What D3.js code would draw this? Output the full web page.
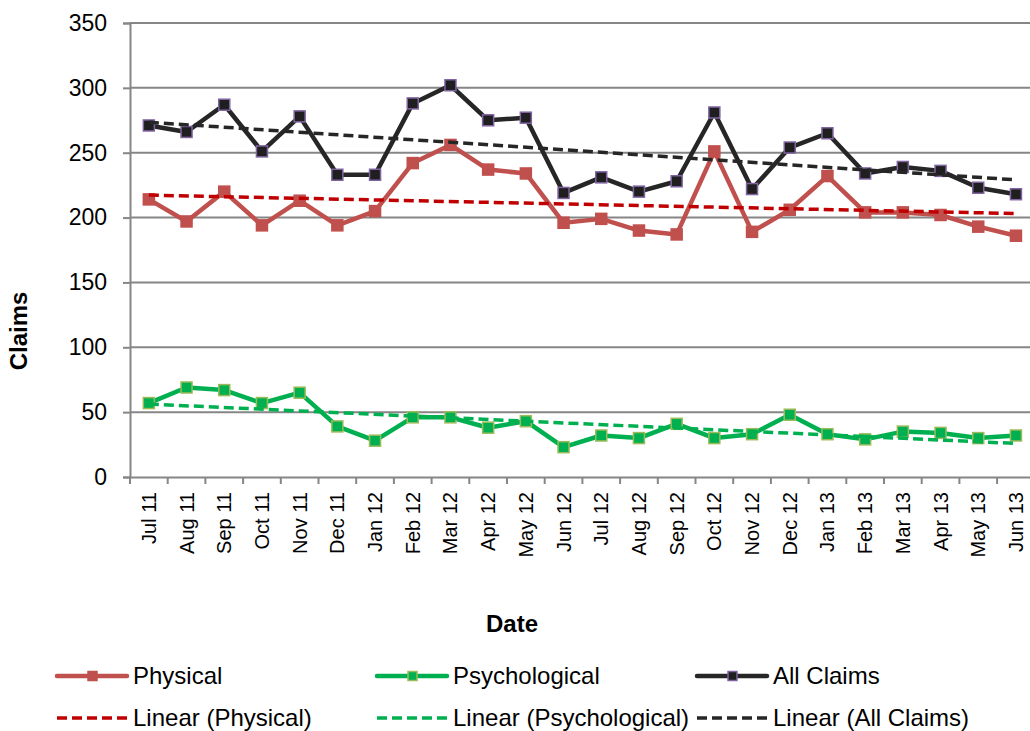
<!DOCTYPE html>
<html lang="en">

<head>
  <meta charset="UTF-8" />
  <script src="https://d3js.org/d3.v7.min.js"></script>
  <title>Claims by Month</title>
  <style>
    body { margin: 0; background: #fff; }
    text { font-family: "Liberation Sans", Arial, sans-serif; fill: #000; }
  </style>
</head>

<body>
  <svg width="1030" height="731"></svg>

  <script>
    // Data
    const months = ["Jul 11", "Aug 11", "Sep 11", "Oct 11", "Nov 11", "Dec 11", "Jan 12", "Feb 12",
      "Mar 12", "Apr 12", "May 12", "Jun 12", "Jul 12", "Aug 12", "Sep 12", "Oct 12", "Nov 12",
      "Dec 12", "Jan 13", "Feb 13", "Mar 13", "Apr 13", "May 13", "Jun 13"];
    const physical = [214, 197, 220, 194, 213, 194, 205, 242, 256, 237, 234, 196,
      199, 190, 187, 251, 189, 206, 232, 204, 204, 202, 193, 186];
    const psychological = [57, 69, 67, 57, 65, 39, 28, 46, 46, 38, 43, 23,
      32, 30, 41, 30, 33, 48, 33, 29, 35, 34, 30, 32];
    const allClaims = [271, 266, 287, 251, 278, 233, 233, 288, 302, 275, 277, 219,
      231, 220, 228, 281, 222, 254, 265, 234, 239, 236, 223, 218];
    const yTicks = [0, 50, 100, 150, 200, 250, 300, 350];

    const series = [
      { name: "Physical", values: physical, color: "#c0504d", marker: "#c0504d", edge: "#c0504d", trend: "#c00000" },
      { name: "Psychological", values: psychological, color: "#00b050", marker: "#00b050", edge: "#9bbb59", trend: "#00b050" },
      { name: "All Claims", values: allClaims, color: "#262626", marker: "#1f1f1f", edge: "#8064a2", trend: "#262626" }
    ];

    const svg = d3.select("svg");
    const margin = { top: 23, left: 130, bottom: 254 };
    const band = 37.7;
    const width = band * months.length;
    const height = 731 - margin.top - margin.bottom;

    const x = d3.scaleBand().domain(months).range([0, width]);
    const y = d3.scaleLinear().domain([0, 350]).range([height, 0]);

    const chart = svg.append("g")
      .attr("transform", `translate(${margin.left},${margin.top})`);

    // gridlines
    chart.append("g")
      .selectAll("line")
      .data(yTicks.filter(d => d > 0))
      .join("line")
      .attr("x1", 0).attr("x2", width)
      .attr("y1", d => y(d)).attr("y2", d => y(d))
      .attr("stroke", "#868686").attr("stroke-width", 2);

    // y axis
    const yAxis = chart.append("g")
      .call(d3.axisLeft(y).tickValues(yTicks).tickSize(7).tickPadding(16));
    yAxis.select(".domain").attr("stroke", "#868686").attr("stroke-width", 2);
    yAxis.selectAll(".tick line").attr("stroke", "#868686").attr("stroke-width", 2);
    yAxis.selectAll("text").attr("font-size", 23).attr("font-family", "Liberation Sans, Arial, sans-serif").attr("fill", "#000");

    // x axis
    const xAxis = chart.append("g")
      .attr("transform", `translate(0,${height})`)
      .call(d3.axisBottom(x).tickSize(0).tickPadding(0));
    xAxis.select(".domain").attr("stroke", "#868686").attr("stroke-width", 2);
    xAxis.selectAll(".tick text")
      .attr("font-size", 20)
      .attr("font-family", "Liberation Sans, Arial, sans-serif")
      .attr("fill", "#000")
      .attr("text-anchor", "end")
      .attr("dy", "0.35em")
      .attr("transform", "translate(0,15) rotate(-90)")
      .attr("x", 0).attr("y", 0);
    // ticks at the band edges
    chart.append("g")
      .selectAll("line")
      .data(d3.range(months.length + 1))
      .join("line")
      .attr("x1", i => i * x.step()).attr("x2", i => i * x.step())
      .attr("y1", height).attr("y2", height + 7)
      .attr("stroke", "#868686").attr("stroke-width", 2);

    const cx = (d, i) => x(months[i]) + x.bandwidth() / 2;

    // linear trend through each series
    function trend(values) {
      const n = values.length;
      const xs = d3.range(n);
      const mx = d3.mean(xs), my = d3.mean(values);
      const b = d3.sum(xs, i => (i - mx) * (values[i] - my)) / d3.sum(xs, i => (i - mx) ** 2);
      const a = my - b * mx;
      return [a, a + b * (n - 1)];
    }

    const line = d3.line().x(cx).y(d => y(d));

    series.forEach(s => {
      chart.append("path")
        .datum(s.values)
        .attr("fill", "none")
        .attr("stroke", s.color)
        .attr("stroke-width", 4.5)
        .attr("stroke-linejoin", "round")
        .attr("d", line);

      chart.append("g")
        .selectAll("rect")
        .data(s.values)
        .join("rect")
        .attr("x", (d, i) => cx(d, i) - 5.5)
        .attr("y", d => y(d) - 5.5)
        .attr("width", 11).attr("height", 11)
        .attr("fill", s.marker)
        .attr("stroke", s.edge)
        .attr("stroke-width", 1.5);
    });

    series.forEach(s => {
      const [t0, t1] = trend(s.values);
      chart.append("line")
        .attr("x1", cx(0, 0)).attr("x2", cx(0, months.length - 1))
        .attr("y1", y(t0)).attr("y2", y(t1))
        .attr("stroke", s.trend)
        .attr("stroke-width", 3.5)
        .attr("stroke-dasharray", "10,5");
    });

    // axis titles
    svg.append("text")
      .attr("x", 512).attr("y", 632)
      .attr("text-anchor", "middle")
      .attr("font-size", 24).attr("font-weight", "bold")
      .text("Date");
    svg.append("text")
      .attr("transform", "translate(27,331) rotate(-90)")
      .attr("text-anchor", "middle")
      .attr("font-size", 24).attr("font-weight", "bold")
      .text("Claims");

    // legend
    const legendX = [57, 377, 697];
    const legend = svg.append("g");
    series.forEach((s, i) => {
      const g = legend.append("g").attr("transform", `translate(${legendX[i]},676)`);
      g.append("line").attr("x1", 0).attr("x2", 70)
        .attr("stroke", s.color).attr("stroke-width", 4.5).attr("stroke-linecap", "round");
      g.append("rect").attr("x", 31).attr("y", -4.5).attr("width", 9).attr("height", 9)
        .attr("fill", s.marker).attr("stroke", s.edge).attr("stroke-width", 1.5);
      g.append("text").attr("x", 76).attr("dy", "0.35em").attr("font-size", 24).text(s.name);

      const t = legend.append("g").attr("transform", `translate(${legendX[i]},718)`);
      t.append("line").attr("x1", 0).attr("x2", 70)
        .attr("stroke", s.trend).attr("stroke-width", 3.5).attr("stroke-dasharray", "10,5");
      t.append("text").attr("x", 76).attr("dy", "0.35em").attr("font-size", 24)
        .text(`Linear (${s.name})`);
    });
  </script>
</body>

</html>
